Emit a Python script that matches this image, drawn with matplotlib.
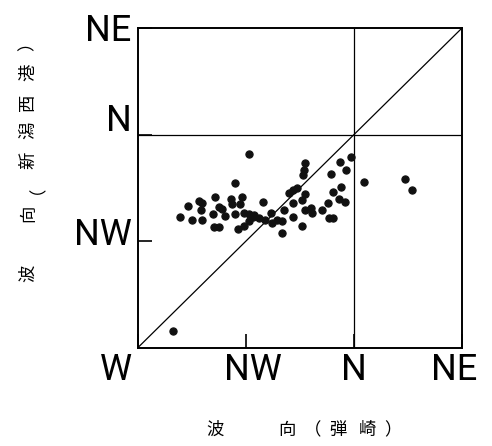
import matplotlib.pyplot as plt
from matplotlib.transforms import ScaledTranslation

plt.rcParams['font.family'] = ['Roboto', 'DejaVu Sans']

# direction index: W=0, NW=1, N=2, NE=3
dir_labels = ['W', 'NW', 'N', 'NE']
hajiki = [0.33, 1.03, 0.90, 0.39, 0.47, 0.50, 0.57, 0.60, 0.59, 0.60, 0.70, 0.72,
          0.75, 0.81, 0.71, 0.75, 0.86, 0.87, 0.90, 0.97, 0.95, 0.98, 1.03, 0.93,
          0.98, 1.03, 1.07, 1.12, 1.16, 1.18, 1.23, 1.24, 1.29, 1.34, 1.34, 1.35,
          1.44, 1.40, 1.44, 1.44, 1.52, 1.55, 1.54, 1.53, 1.52, 1.55, 1.55, 1.60,
          1.61, 1.71, 1.76, 1.77, 1.81, 1.79, 1.87, 1.93, 1.97, 1.88, 1.81, 1.86,
          1.92, 2.09, 2.47, 2.54, 0.78, 1.08, 1.47]
niigata = [0.16, 1.82, 1.55, 1.23, 1.33, 1.20, 1.38, 1.36, 1.29, 1.20, 1.26, 1.42,
           1.32, 1.24, 1.13, 1.13, 1.40, 1.35, 1.26, 1.42, 1.35, 1.27, 1.26, 1.12,
           1.14, 1.19, 1.23, 1.22, 1.37, 1.20, 1.27, 1.17, 1.20, 1.19, 1.08, 1.29,
           1.23, 1.45, 1.48, 1.36, 1.14, 1.73, 1.67, 1.62, 1.39, 1.44, 1.29, 1.31,
           1.27, 1.29, 1.36, 1.22, 1.22, 1.63, 1.74, 1.67, 1.79, 1.51, 1.46, 1.40,
           1.37, 1.56, 1.58, 1.48, 1.30, 1.25, 1.50]

# axis titles, laid out one character at a time as in the original
xlabel_chars = ['波', '向', '（', '弾', '崎', '）']
xlabel_px = [215, 287, 313, 338, 367, 393]
ylabel_chars = ['波', '向', '（', '新', '潟', '西', '港', '）']
ylabel_px = [273, 213, 185, 160, 130, 102, 72, 42]

fig = plt.figure(figsize=(4.92, 4.46), dpi=100)
ax = fig.add_axes([0.2795, 0.2197, 0.6596, 0.7175])

ax.plot([0, 3], [0, 3], color='black', linewidth=0.9)
ax.axvline(2, color='black', linewidth=0.9)
ax.axhline(2, color='black', linewidth=0.9)
ax.plot(hajiki, niigata, 'o', color='#111111', markersize=5.2, markeredgewidth=0.8)

ax.set_xlim(0, 3)
ax.set_ylim(0, 3)
for s in ax.spines.values():
    s.set_linewidth(1.4)

ax.set_xticks([0, 1, 2, 3])
ax.set_xticklabels(dir_labels, fontsize=26)
ax.set_yticks([1, 2, 3])
ax.set_yticklabels(dir_labels[1:], fontsize=26)
ax.tick_params(direction='in', length=10, width=1.2, pad=3)

# nudge tick labels like the original hand lettering
xoff = [-22, 7, 0, -8]
for lab, dx in zip(ax.get_xticklabels(), xoff):
    lab.set_transform(lab.get_transform() + ScaledTranslation(dx / 100, 0, fig.dpi_scale_trans))
yoff = [10, 18, 1]
for lab, dy in zip(ax.get_yticklabels(), yoff):
    lab.set_transform(lab.get_transform() + ScaledTranslation(-2 / 100, dy / 100, fig.dpi_scale_trans))

jp = ['Noto Sans CJK JP', 'DejaVu Sans']
for ch, px in zip(xlabel_chars, xlabel_px):
    fig.text(px / 492, 1 - 430 / 446, ch, ha='center', va='center',
             fontsize=12.5, family=jp)
for ch, py in zip(ylabel_chars, ylabel_px):
    fig.text(28 / 492, 1 - py / 446, ch, ha='center', va='center',
             rotation=90, fontsize=12.5, family=jp)

fig.savefig('out.png', dpi=100)
